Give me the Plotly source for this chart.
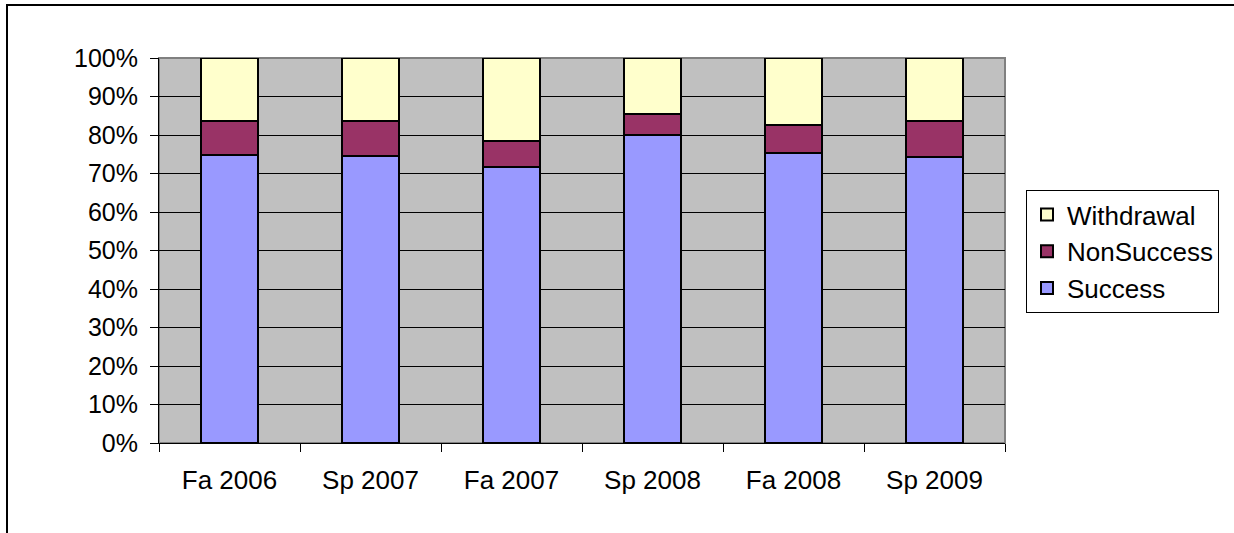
import plotly.graph_objects as go

categories = ["Fa 2006", "Sp 2007", "Fa 2007", "Sp 2008", "Fa 2008", "Sp 2009"]
success = [74.8, 74.5, 71.8, 79.9, 75.4, 74.2]
nonsuccess = [8.8, 9.1, 6.7, 5.6, 7.1, 9.5]
withdrawal = [16.4, 16.4, 21.5, 14.5, 17.5, 16.3]

W, H = 1234, 533
L, R, T, B = 159, 229, 58, 90
pw, ph = W - L - R, H - T - B

fam = "Liberation Sans, Arial, sans-serif"
font = dict(family=fam, size=25, color="black")
xfont = dict(family=fam, size=26, color="black")
lfont = dict(family=fam, size=26, color="black")

fig = go.Figure()
for name, vals, col in [("Success", success, "#9999FF"),
                        ("NonSuccess", nonsuccess, "#993366"),
                        ("Withdrawal", withdrawal, "#FFFFCC")]:
    fig.add_trace(go.Bar(x=categories, y=vals, name=name, legendgroup=name,
                         marker=dict(color=col, line=dict(color="black", width=2))))

def px_x(p):
    return (p - L) / pw

def px_y(p):
    return (H - B - p) / ph

fig.update_layout(
    width=W, height=H,
    margin=dict(l=L, r=R, t=T, b=B, pad=0),
    barmode="stack", bargap=0.6,
    plot_bgcolor="#C0C0C0", paper_bgcolor="white",
    font=font,
    showlegend=True,
    legend=dict(x=px_x(1026), y=px_y(190), xanchor="left", yanchor="top",
                traceorder="reversed", bordercolor="black", borderwidth=1,
                bgcolor="white", font=lfont, itemwidth=30, tracegroupgap=5),
    xaxis=dict(type="category", tickson="boundaries", ticks="outside", ticklen=8,
               tickcolor="black", showline=True, linecolor="black", linewidth=1,
               showgrid=False, ticklabelstandoff=14, tickfont=xfont),
    yaxis=dict(range=[0, 100], dtick=10, ticksuffix="%", ticks="outside", ticklen=8,
               tickcolor="black", showline=True, linecolor="black", linewidth=1,
               showgrid=True, gridcolor="black", gridwidth=1, zeroline=False,
               ticklabelstandoff=7, tickfont=font),
    shapes=[
        dict(type="rect", xref="paper", yref="paper", x0=0, x1=1, y0=0, y1=1,
             line=dict(color="#808080", width=2), layer="below"),
        dict(type="rect", xref="paper", yref="paper",
             x0=px_x(7), x1=px_x(W + 20), y0=px_y(H + 20), y1=px_y(5),
             line=dict(color="black", width=2)),
    ],
)

fig.write_html("out.html", config={"displayModeBar": False},
               post_script="document.body.style.margin='0';document.body.style.overflow='hidden';")
